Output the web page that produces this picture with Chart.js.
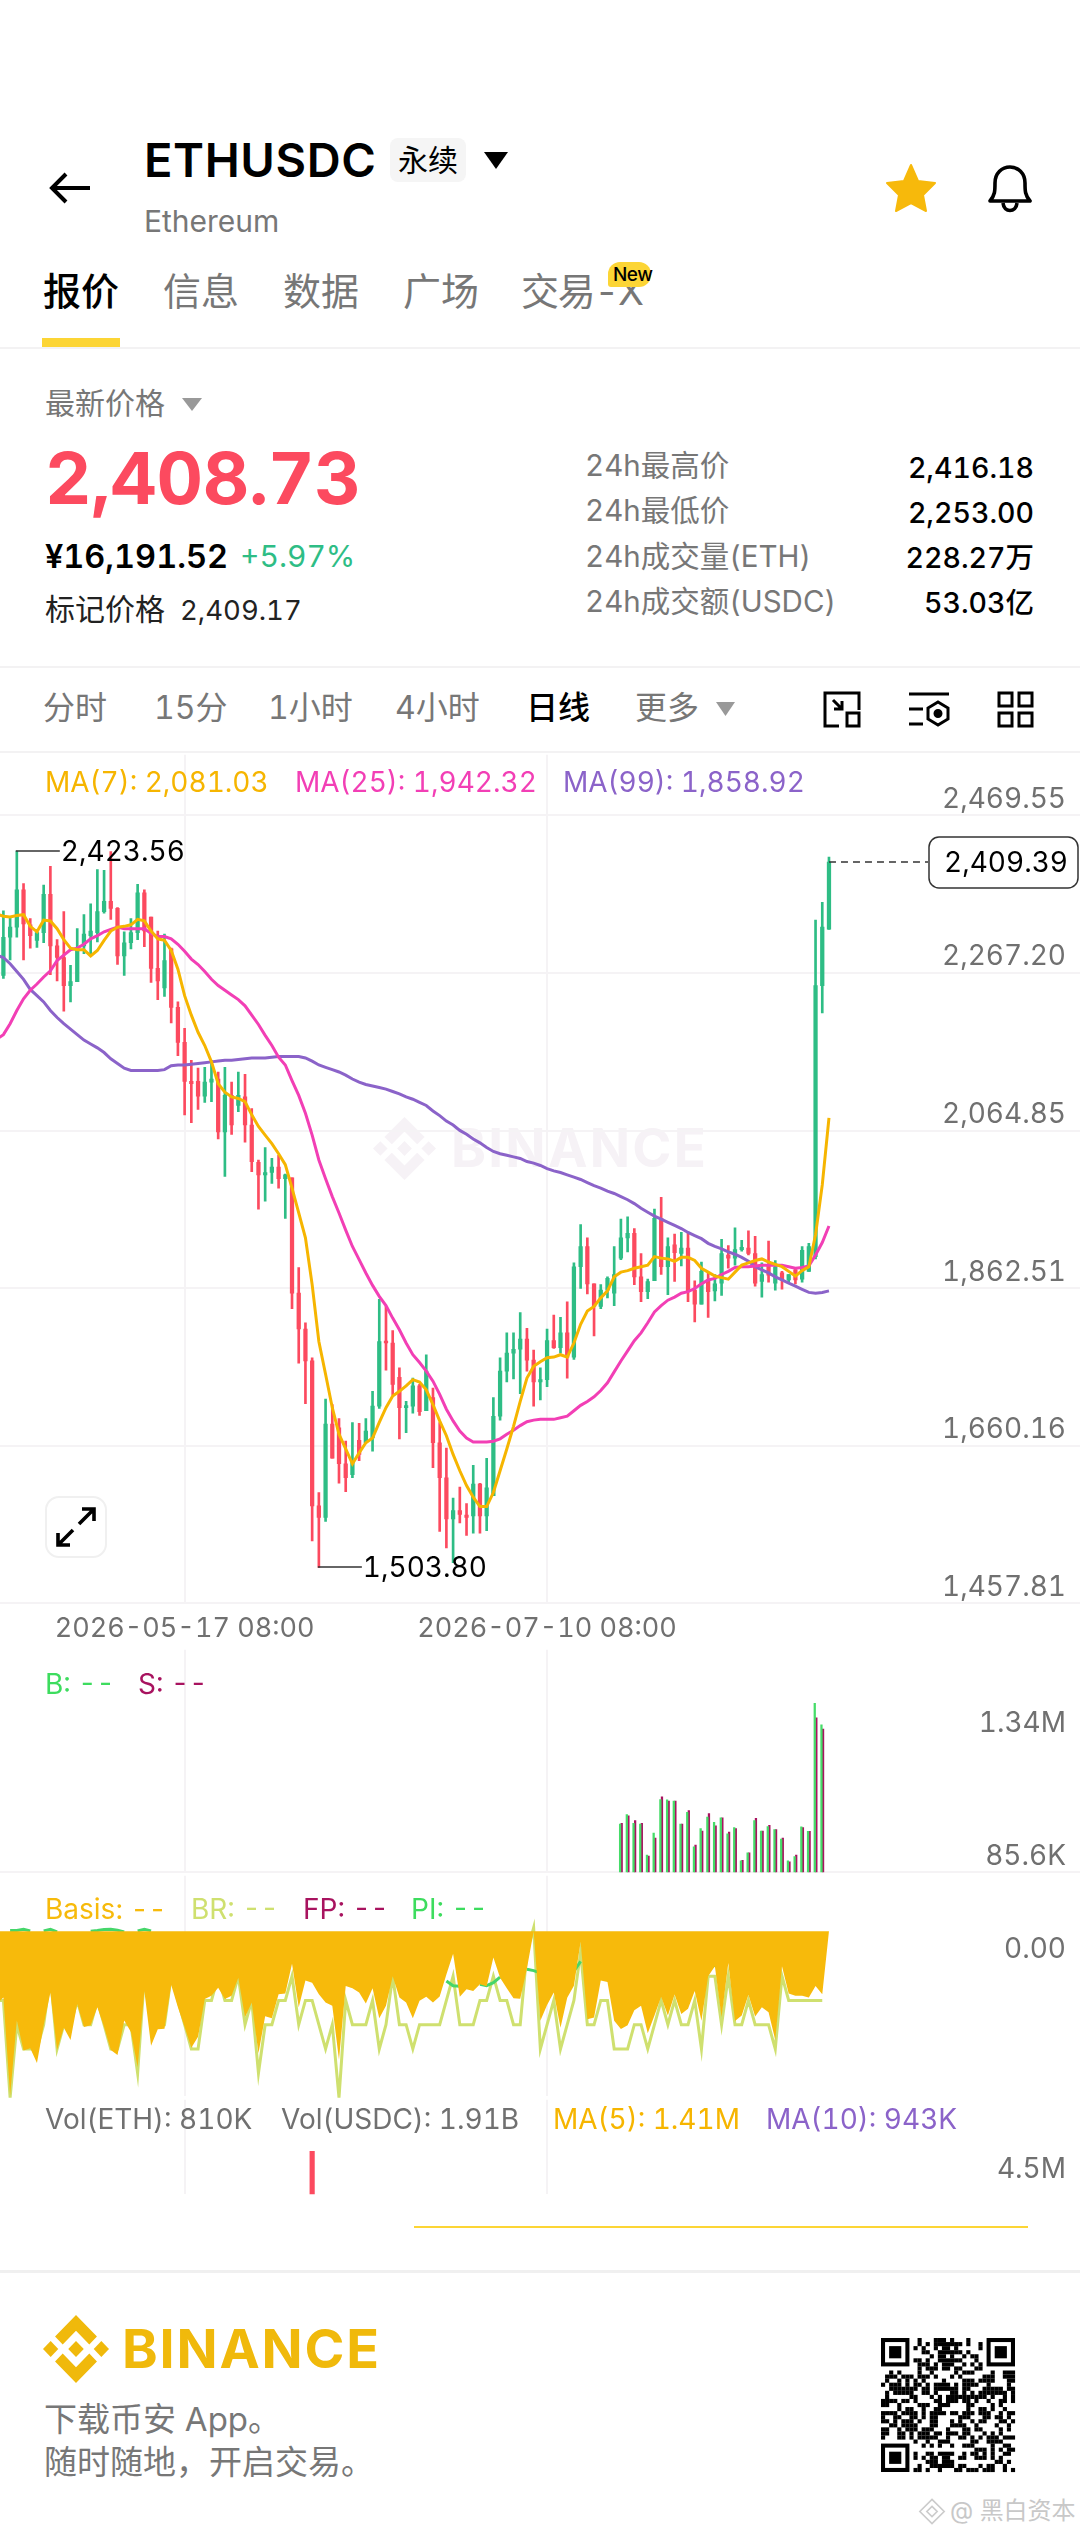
<!DOCTYPE html>
<html>
<head>
<meta charset="utf-8">
<script src="https://cdn.jsdelivr.net/npm/chart.js@4/dist/chart.umd.min.js"></script>
<style>
  html, body { margin: 0; padding: 0; background: #fff; }
  body { position: relative; width: 1080px; height: 2537px; overflow: hidden;
         font-family: Inter, "Noto Sans CJK SC", sans-serif; color: #000; font-variant-numeric: tabular-nums; }
  canvas { position: absolute; left: 0; }
  .t { position: absolute; white-space: nowrap; transform: translateY(-50%); line-height: 1.2; }
  .lg { font-size: 28px; }
  .r { position: absolute; }
  .line { position: absolute; left: 0; width: 1080px; background: #f3f2f3; }
  svg { position: absolute; overflow: visible; }
  .grey { color: #777; }
</style>
</head>
<body>

<!-- header -->
<svg style="left:50px;top:172px" width="40" height="32" viewBox="0 0 40 32"><path d="M40 16H3M16 2L2 16l14 14" fill="none" stroke="#000" stroke-width="4"/></svg>
<div class="t" style="left:144px;top:160px;font-size:47px;font-weight:600;letter-spacing:.6px">ETHUSDC</div>
<div class="r" style="left:390px;top:138px;width:76px;height:44px;background:#f5f5f5;border-radius:8px"></div>
<div class="t" style="left:398px;top:160px;font-size:30px">永续</div>
<svg style="left:484px;top:152px" width="24" height="17"><path d="M0 0h24L12 17z" fill="#000"/></svg>
<div class="t grey" style="left:144px;top:221px;font-size:30px">Ethereum</div>
<svg style="left:886px;top:164px" width="50" height="48" viewBox="0 0 50 48"><path d="M25 1l7 16 17 2-12 12 3 16-15-8-15 8 3-16L1 19l17-2z" fill="#f7b90b" stroke="#f7b90b" stroke-linejoin="round" stroke-width="2"/></svg>
<svg style="left:987px;top:165px" width="46" height="48" viewBox="0 0 46 48"><path d="M3 36c5-6 5-10 5-18C8 8 15 2 23 2s15 6 15 16c0 8 0 12 5 18z" fill="none" stroke="#000" stroke-width="3.6" stroke-linejoin="round"/><path d="M16 38c1 10 13 10 14 0" fill="none" stroke="#000" stroke-width="3.6"/></svg>

<div class="t" style="left:43px;top:292px;font-size:38px;font-weight:500">报价</div>
<div class="t grey" style="left:163px;top:292px;font-size:38px">信息</div>
<div class="t grey" style="left:283px;top:292px;font-size:38px">数据</div>
<div class="t grey" style="left:403px;top:292px;font-size:38px">广场</div>
<div class="t grey" style="left:521px;top:292px;font-size:38px;letter-spacing:-1.2px">交易-X</div>
<div class="r" style="left:608px;top:262px;width:43px;height:25px;background:#fcd535;border-radius:12px 12px 12px 3px"></div>
<div class="t" style="left:613px;top:275px;font-size:19px;font-weight:500;letter-spacing:-.5px">New</div>
<div class="r" style="left:42px;top:338px;width:78px;height:9px;background:#fcd535"></div>
<div class="line" style="top:347px;height:2px"></div>

<div class="t grey" style="left:45px;top:403px;font-size:30px">最新价格</div>
<svg style="left:182px;top:398px" width="20" height="13"><path d="M0 0h20L10 13z" fill="#999"/></svg>
<div class="t" style="left:45px;top:478px;font-size:72px;font-weight:700;color:#fc4a5f;letter-spacing:-.3px">2,408.73</div>
<div class="t" style="left:45px;top:556px;font-size:32.5px;font-weight:600">¥16,191.52</div>
<div class="t" style="left:240px;top:556px;font-size:30px;color:#2ebd85">+5.97%</div>
<div class="t" style="left:45px;top:609px;font-size:30px;color:#222">标记价格</div>
<div class="t" style="left:180px;top:610px;font-size:27.5px;color:#222">2,409.17</div>

<div class="t grey" style="left:585px;top:466px;font-size:29.500px">24h最高价</div>
<div class="t grey" style="left:585px;top:511px;font-size:29.500px">24h最低价</div>
<div class="t grey" style="left:585px;top:557px;font-size:29.500px">24h成交量(ETH)</div>
<div class="t grey" style="left:585px;top:602px;font-size:29.500px">24h成交额(USDC)</div>
<div class="t" style="right:46px;top:468px;font-size:28.5px;font-weight:500">2,416.18</div>
<div class="t" style="right:46px;top:513px;font-size:28.5px;font-weight:500">2,253.00</div>
<div class="t" style="right:46px;top:558px;font-size:28.5px;font-weight:500">228.27万</div>
<div class="t" style="right:46px;top:603px;font-size:28.5px;font-weight:500">53.03亿</div>
<div class="line" style="top:666px;height:2px"></div>

<div class="t grey" style="left:43px;top:708px;font-size:32px">分时</div>
<div class="t grey" style="left:154px;top:708px;font-size:32px">15分</div>
<div class="t grey" style="left:268px;top:708px;font-size:32px">1小时</div>
<div class="t grey" style="left:395px;top:708px;font-size:32px">4小时</div>
<div class="t" style="left:526px;top:708px;font-size:32px;font-weight:500">日线</div>
<div class="t grey" style="left:635px;top:708px;font-size:32px">更多</div>
<svg style="left:716px;top:702px" width="19" height="14"><path d="M0 0h19L9.5 14z" fill="#999"/></svg>
<svg style="left:823px;top:691px" width="38" height="37" viewBox="0 0 38 37" fill="none" stroke="#000" stroke-width="3"><path d="M16 35H2V2h34v17M10 9l9 9M19 10v8h-8"/><rect x="24" y="22" width="12" height="13"/></svg>
<svg style="left:909px;top:691px" width="40" height="37" viewBox="0 0 40 37" fill="none" stroke="#000" stroke-width="3"><path d="M0 3h40M0 18h14M0 33h14M29 11l10 6v11l-10 6-10-6V17z"/><circle cx="29" cy="22.500" r="3" fill="#000"/></svg>
<svg style="left:997px;top:691px" width="37" height="37" viewBox="0 0 37 37" fill="none" stroke="#000" stroke-width="3"><rect x="2" y="2" width="13" height="13"/><rect x="22" y="2" width="13" height="13"/><rect x="2" y="22" width="13" height="13"/><rect x="22" y="22" width="13" height="13"/></svg>
<div class="line" style="top:751px;height:2px"></div>

<!-- watermark behind the price chart -->
<svg style="left:372px;top:1117px" width="65" height="63" viewBox="0 0 126 126" fill="#f6f2f6"><polygon points="63,0 103,40 88.400,54.600 63,29.200 37.600,54.600 23,40"/><polygon points="63,126 103,86 88.400,71.400 63,96.800 37.600,71.400 23,86"/><polygon points="0,63 14.600,48.400 29.200,63 14.600,77.600"/><polygon points="126,63 111.400,48.400 96.800,63 111.400,77.600"/><polygon points="63,48.200 77.800,63 63,77.800 48.200,63"/></svg>
<div class="t" style="left:451px;top:1149px;font-size:53px;font-weight:700;color:#f6f2f6;letter-spacing:2.2px">BINANCE</div>

<canvas id="priceChart" width="1080" height="895" style="top:752px"></canvas>
<canvas id="depthChart" width="1080" height="228" style="top:1647px"></canvas>
<canvas id="basisChart" width="1080" height="226" style="top:1873px"></canvas>
<canvas id="volChart" width="1080" height="100" style="top:2097px"></canvas>

<!-- legends -->
<div class="t lg" style="left:45px;top:783px;color:#f6b500">MA(7): 2,081.03</div>
<div class="t lg" style="left:295px;top:783px;color:#f23fb5">MA(25): 1,942.32</div>
<div class="t lg" style="left:563px;top:783px;color:#8b63c9">MA(99): 1,858.92</div>

<div class="r" style="left:45px;top:1496px;width:58px;height:58px;border:2px solid #f0f0f0;border-radius:14px;background:#fff"></div>
<svg style="left:56px;top:1507px" width="40" height="40" viewBox="0 0 40 40" fill="none" stroke="#000" stroke-width="3.600"><path d="M23 17L38 2M26 2h12v12M17 23L2 38M14 38H2V26"/></svg>

<div class="t lg" style="left:45px;top:1685px;color:#3ddc5e">B: --</div>
<div class="t lg" style="left:138px;top:1685px;color:#a8135f">S: --</div>

<div class="t lg" style="left:45px;top:1910px;color:#f7ba0b">Basis: --</div>
<div class="t lg" style="left:191px;top:1910px;color:#cfe06f">BR: --</div>
<div class="t lg" style="left:303px;top:1910px;color:#a8135f">FP: --</div>
<div class="t lg" style="left:411px;top:1910px;color:#3ddc5e">PI: --</div>

<div class="t lg" style="left:45px;top:2120px;color:#707070">Vol(ETH): 810K</div>
<div class="t lg" style="left:281px;top:2120px;color:#707070">Vol(USDC): 1.91B</div>
<div class="t lg" style="left:553px;top:2120px;color:#f6b500">MA(5): 1.41M</div>
<div class="t lg" style="left:766px;top:2120px;color:#8b63c9">MA(10): 943K</div>

<div class="r" style="left:414px;top:2226px;width:614px;height:2px;background:#fcd535"></div>

<!-- footer -->
<div class="line" style="top:2270px;height:3px;background:#f0f0f0"></div>
<svg style="left:43px;top:2315px" width="66" height="68" viewBox="0 0 126 126" preserveAspectRatio="none" fill="#f0b90b"><polygon points="63,0 103,40 88.400,54.600 63,29.200 37.600,54.600 23,40"/><polygon points="63,126 103,86 88.400,71.400 63,96.800 37.600,71.400 23,86"/><polygon points="0,63 14.600,48.400 29.200,63 14.600,77.600"/><polygon points="126,63 111.400,48.400 96.800,63 111.400,77.600"/><polygon points="63,48.200 77.800,63 63,77.800 48.200,63"/></svg>
<div class="t" style="left:122px;top:2349px;font-size:54px;font-weight:700;color:#f0b90b;letter-spacing:1.8px">BINANCE</div>
<div class="t grey" style="left:44px;top:2420px;font-size:33px">下载币安 App。</div>
<div class="t grey" style="left:44px;top:2463px;font-size:33px">随时随地，开启交易。</div>
<svg id="qr" style="left:881px;top:2338px" width="134" height="134" viewBox="0 0 33 33"></svg>
<svg style="left:919px;top:2498px" width="26" height="27" viewBox="0 0 126 126" fill="none" stroke="#ccc" stroke-width="8"><polygon points="63,4 122,63 63,122 4,63"/><polygon points="63,38 88,63 63,88 38,63"/></svg>
<div class="t" style="left:950px;top:2511px;font-size:24px;color:#c8c8c8">@ 黑白资本</div>

<script>
// daily candles, 2026-04-20 onward
const opens = [2264,2313,2326,2374,2329,2309,2319,2368,2302,2287,2251,2256,2302,2315,2319,2346,2359,2350,2289,2306,2319,2370,2339,2273,2248,2298,2223,2178,2128,2128,2109,2127,2131,2063,2110,2097,2108,2072,
  2024,2008,2011,2018,2003,2004,1856,1810,1769,1583,1568,1688,1683,1637,1623,1667,1664,1670,1711,1794,1792,1748,1709,1711,1737,1705,1722,1664,1619,1566,1577,1571,1570,1611,1570,1596,1698,1756,1779,1784,1797,
  1770,1742,1745,1795,1786,1805,1774,1890,1916,1868,1839,1860,1856,1901,1927,1933,1877,1858,1872,1952,1890,1918,1907,1914,1860,1842,1873,1859,1869,1905,1901,1912,1914,1907,1871,1892,1869,1882,1873,1886,1874,1884,1903,2251,2323.5];
const highs = [2347,2339,2423.56,2382,2337,2323,2380,2404,2310,2346,2277,2324,2342,2356,2400,2399,2423,2351,2320,2337,2381,2374,2339,2321,2317,2299,2230,2196,2155,2145,2146,2155,2140,2146,2127,2140,2137,2093,
  2027,2043,2029,2033,2009,2004,1889,1818,1773,1600,1720,1713,1695,1666,1690,1689,1695,1730,1848,1839,1808,1760,1717,1747,1739,1777,1734,1690,1657,1593,1607,1586,1635,1612,1644,1722,1773,1805,1805,1831,1811,
  1783,1760,1810,1828,1825,1845,1895,1944,1927,1868,1867,1877,1916,1951,1954,1939,1907,1874,1964,1979,1927,1932,1934,1934,1872,1896,1882,1880,1925,1917,1940,1924,1936,1929,1895,1923,1898,1884,1880,1888,1916,1920,2335,2358,2416];
const lows = [2260,2284,2313,2284,2299,2300,2306,2265,2257,2218,2230,2256,2292,2292,2307,2344,2336,2278,2264,2298,2310,2301,2255,2233,2237,2203,2161,2085,2075,2092,2101,2102,2054,2006,2060,2089,2050,2012,
  1964,1974,1997,1991,1952,1836,1766,1714,1538,1503.8,1563,1644,1612,1601,1619,1641,1664,1653,1708,1757,1725,1669,1677,1702,1699,1705,1632,1550,1529,1510,1561,1545,1548,1548,1551,1596,1693,1742,1746,1727,1756,
  1711,1719,1736,1785,1779,1747,1771,1862,1855,1801,1836,1850,1840,1899,1909,1867,1845,1849,1872,1880,1854,1871,1891,1845,1819,1842,1825,1846,1853,1888,1892,1910,1905,1865,1851,1870,1860,1861,1870,1868,1870,1884,1900,2216,2323];
const closes = [2313,2326,2374,2330,2315,2319,2368,2302,2287,2251,2256,2298,2317,2321,2346,2359,2350,2289,2306,2319,2370,2321,2273,2257,2283,2223,2178,2128,2125,2109,2127,2131,2063,2110,2072,2110,2072,2025,
  2008,2011,2018,2003,2008,1856,1810,1769,1583,1568,1688,1644,1637,1619,1641,1649,1679,1711,1794,1792,1739,1709,1711,1737,1704,1756,1664,1619,1566,1577,1572,1568,1611,1570,1606,1698,1756,1779,1784,1797,1770,
  1742,1745,1795,1786,1805,1774,1890,1916,1868,1839,1860,1875,1880,1927,1933,1877,1858,1871,1952,1890,1916,1908,1914,1858,1842,1884,1858,1868,1907,1901,1912,1915,1907,1869,1880,1879,1890,1873,1880,1873,1911,1916,2251,2326,2409.39];

// moving averages start one day left of the first candle, off the edge of the pane
const ma7 = [2343,2340,2339,2341,2342,2327,2320,2335,2334,2324,2310,2299,2297,2297,2289,2296,2309,2321,2326,2327,2329,2336,2334,2321,2311,2309,2296,2272,2238,2213,2191,2174,2153,2125,2114,2108,2106,2102,2085,
  2070,2059,2048,2035,2021,1991,1959,1927,1867,1794,1752,1709,1675,1656,1637,1651,1664,1670,1690,1709,1724,1730,1737,1745,1742,1732,1713,1692,1673,1649,1628,1609,1594,1582,1582,1600,1628,1656,1685,1717,1747,1762,
  1768,1773,1774,1777,1774,1792,1816,1833,1839,1850,1859,1877,1883,1885,1888,1890,1892,1903,1901,1900,1897,1902,1902,1898,1888,1883,1878,1876,1874,1883,1892,1895,1898,1900,1896,1893,1890,1884,1878,1885,1890,1931,1995,2081.03];
const ma25 = [2182,2188,2202,2219,2234,2245,2253,2262,2270,2283,2290,2297,2299,2304,2311,2315,2320,2323,2326,2324,2324,2324,2324,2318,2314,2314,2311,2304,2295,2285,2278,2269,2259,2251,2245,2239,2233,2225,2213,2201,2187,2174,
  2159,2149,2129,2110,2087,2059,2027,2003,1980,1959,1937,1916,1899,1882,1866,1852,1840,1824,1809,1792,1777,1767,1756,1743,1726,1707,1692,1679,1670,1665,1665,1665,1666,1669,1675,1680,1686,1691,1693,
  1694,1694,1694,1696,1698,1705,1712,1717,1723,1731,1741,1755,1769,1782,1795,1805,1818,1832,1840,1847,1851,1856,1858,1862,1868,1873,1875,1880,1884,1889,1890,1890,1891,1892,1892,1892,1892,1890,1888,1889,1891,1905,1921,1942.32];
const ma99 = [2290,2287,2279,2269,2259,2246,2238,2230,2219,2210,2202,2195,2188,2181,2176,2171,2165,2157,2151,2145,2142,2142,2142,2142,2142,2143,2148,2149,2149,2150,2151,2152,2153,2154,2155,2155,2156,2157,2158,2158,2158,2159,
  2160,2160,2160,2160,2158,2154,2149,2146,2143,2140,2136,2131,2127,2124,2122,2120,2118,2115,2112,2108,2105,2101,2097,2090,2084,2077,2072,2065,2060,2054,2049,2043,2038,2035,2033,2031,2029,2025,2023,
  2020,2016,2013,2011,2008,2005,2002,1998,1994,1991,1987,1984,1980,1976,1971,1965,1960,1955,1951,1947,1943,1939,1934,1930,1926,1920,1916,1913,1909,1906,1902,1897,1890,1886,1882,1877,1873,1869,1865,1861,1857,1856,1857,1858.92];

// buy / sell volume in thousands, only the days that show in the pane
const flowDays = [92,93,94,95,96,97,98,99,100,101,102,103,104,105,106,107,108,109,110,111,112,113,114,115,116,117,118,119,120,121,122];
const buyVol = [542,632,549,542,249,456,775,772,759,542,652,326,499,609,559,602,449,509,193,269,576,476,519,489,399,193,233,516,472,1685,1482];
const sellVol = [549,619,576,549,239,409,799,759,759,542,669,342,476,642,526,602,466,499,199,269,596,476,529,489,409,183,249,509,472,1548,1442];

// basis, basis rate and premium index, same one-day lead-in as the MAs
const basis = [-2.22,-2.02,-5.02,-2.72,-3.64,-3.57,-4.02,-2.87,-1.87,-3.62,-2.94,-3.32,-2.22,-2.92,-2.87,-2.32,-2.92,-3.62,-3.77,-2.72,-3.07,-4.15,-1.82,-3.49,-2.99,-2.97,-1.64,-2.32,-2.92,-3.55,-3.22,-2.07,-1.97,-1.72,-2.07,-1.97,-1.42,-2.62,-2.17,-3.72,-2.59,-2.65,
  -1.92,-1.90,-0.99,-2.32,-1.50,-1.57,-1.92,-2.17,-2.27,-3.92,-1.67,-1.74,-1.87,-2.20,-1.74,-2.65,-2.27,-1.37,-2.02,-2.17,-2.65,-2.12,-2.00,-2.17,-1.99,-1.32,-0.69,-2.00,-1.77,-1.82,-1.62,-1.68,-0.80,-1.42,-1.74,-2.04,-2.06,-1.14,0,
  -2.73,-2.25,-1.87,-2.94,-2.03,-1.66,-0.32,-2.68,-2.63,-1.50,-1.55,-2.73,-2.98,-2.87,-2.41,-2.27,-3.11,-2.57,-2.00,-2.57,-1.93,-2.52,-2.36,-1.82,-2.73,-1.37,-1.07,-2.62,-0.97,-2.74,-2.57,-1.94,-2.60,-2.32,-2.47,-3.32,-1.07,-1.90,-1.97,-1.97,-2.02,-1.67,-1.92,0];
const basisRate = [-0.03,-0.03,-0.07,-0.04,-0.05,-0.05,-0.05,-0.04,-0.02,-0.05,-0.04,-0.04,-0.03,-0.04,-0.04,-0.03,-0.04,-0.05,-0.05,-0.04,-0.04,-0.06,-0.02,-0.04,-0.04,-0.04,-0.02,-0.03,-0.04,-0.05,-0.05,-0.03,-0.03,-0.02,-0.03,-0.03,-0.02,-0.04,-0.03,-0.06,-0.04,-0.04,
  -0.03,-0.03,-0.02,-0.04,-0.03,-0.03,-0.04,-0.05,-0.04,-0.07,-0.03,-0.04,-0.04,-0.04,-0.03,-0.05,-0.04,-0.02,-0.04,-0.04,-0.05,-0.04,-0.04,-0.04,-0.04,-0.03,-0.02,-0.04,-0.04,-0.04,-0.03,-0.03,-0.02,-0.03,-0.03,-0.04,-0.04,-0.01,0,
  -0.05,-0.04,-0.03,-0.05,-0.04,-0.03,-0.01,-0.04,-0.04,-0.03,-0.03,-0.05,-0.05,-0.05,-0.04,-0.04,-0.05,-0.04,-0.03,-0.04,-0.03,-0.04,-0.04,-0.03,-0.05,-0.02,-0.02,-0.04,-0.02,-0.04,-0.04,-0.03,-0.04,-0.04,-0.04,-0.05,-0.02,-0.03,-0.03,-0.03,-0.03,-0.03,-0.03,null];
const premiumDays = [1,2,3,4,null,6,7,8,null,13,14,15,16,17,18,null,20,21,22,null,66,67,68,null,71,72,73,74,null,78,79,80,null,85,86,null,105,106,107];
const premium = [0.02,0.02,0.06,0.01,null,0.01,0.06,-0.02,null,0,0.02,0.05,0.06,0.03,-0.02,null,0.01,0.06,0.01,null,-1.52,-1.66,-1.68,null,-1.62,-1.66,-1.57,-1.40,null,-1.16,-1.20,-1.27,null,-1.22,-0.92,null,-1.2,-1.02,-1.2];

// the lone visible volume bar, in millions
const volDays = [46];
const volEth = [5.31];

// tick labels
const priceTicks = [2469.55,2267.20,2064.85,1862.51,1660.16,1457.81];
const priceTickLabels = ['2,469.55','2,267.20','2,064.85','1,862.51','1,660.16','1,457.81'];
const flowTicks = [1340,85.6];
const flowTickLabels = ['1.34M','85.6K'];
const dateTickDays = [27,81];
const dateTickLabels = ['2026-05-17 08:00','2026-07-10 08:00'];

const GREEN = '#2ebd85', RED = '#fc4a5f', GRID = '#f5f3f5', AXIS_TEXT = '#707070';
// one day = 6.712px, first candle at x=3.4
const xMin = -3.4 / 6.712, xMax = (1080 - 3.4) / 6.712;

Chart.defaults.font.family = 'Inter, "Noto Sans CJK SC", sans-serif';
Chart.defaults.animation = false;
Chart.defaults.responsive = false;
Chart.defaults.devicePixelRatio = 1;
Chart.defaults.plugins.legend.display = false;
Chart.defaults.plugins.tooltip.enabled = false;

function xAxis(gutter, showLabels) {
  return {
    type: 'linear', min: xMin, max: xMax, offset: false,
    afterBuildTicks: s => { s.ticks = dateTickDays.map(v => ({ value: v })); },
    afterFit: s => { s.height = gutter; },
    grid: { color: GRID, lineWidth: 2, drawTicks: false, offset: false },
    border: { display: false },
    ticks: {
      display: showLabels, autoSkip: false, maxRotation: 0, minRotation: 0, padding: 9,
      color: AXIS_TEXT, font: { size: 27 },
      callback: v => dateTickLabels[dateTickDays.indexOf(v)]
    }
  };
}

function yAxis(min, max, tickVals, tickText, labelOffset, gridFor) {
  return {
    position: 'right', min, max, beginAtZero: false,
    afterBuildTicks: s => { s.ticks = tickVals.map(v => ({ value: v })); },
    afterFit: s => { s.width = 0; },
    grid: { color: gridFor || GRID, lineWidth: 2, drawTicks: false },
    border: { display: false },
    ticks: {
      mirror: true, padding: -14, labelOffset, color: AXIS_TEXT, font: { size: 28 },
      autoSkip: false,
      callback: v => tickText[tickVals.indexOf(v)]
    }
  };
}

const days = closes.map((_, i) => i);
const at = (vals, lead) => vals.map((y, i) => ({ x: i - lead, y }));
const candleColor = days.map(i => closes[i] >= opens[i] ? GREEN : RED);

function maLine(values, color, order) {
  return { type: 'line', data: at(values, 1), borderColor: color, borderWidth: 3, pointRadius: 0, tension: 0, order };
}

// high / low callouts and the last-price tag, positioned through the scales
const priceMarks = {
  id: 'priceMarks',
  afterDatasetsDraw(chart) {
    const { ctx, scales: { x, y } } = chart;
    ctx.save();
    ctx.font = '28px ' + Chart.defaults.font.family;
    ctx.textBaseline = 'middle';
    ctx.fillStyle = '#000';
    ctx.strokeStyle = '#333';
    ctx.lineWidth = 1.5;

    [[2, highs[2]], [47, lows[47]]].forEach(([day, value]) => {
      const px = x.getPixelForValue(day), py = Math.round(y.getPixelForValue(value));
      ctx.beginPath();
      ctx.moveTo(px - 1, py);
      ctx.lineTo(px + 43, py);
      ctx.stroke();
      ctx.fillText(value.toLocaleString('en-US', { minimumFractionDigits: 2 }), px + 44, py + 2);
    });

    const lastY = Math.round(y.getPixelForValue(closes[123]));
    const lastX = x.getPixelForValue(123);
    ctx.setLineDash([7, 5]);
    ctx.beginPath();
    ctx.moveTo(lastX, lastY);
    ctx.lineTo(928, lastY);
    ctx.stroke();
    ctx.setLineDash([]);
    ctx.fillStyle = '#fff';
    ctx.beginPath();
    ctx.roundRect(929, lastY - 25, 149, 51, 10);
    ctx.fill();
    ctx.stroke();
    ctx.fillStyle = '#000';
    ctx.fillText('2,409.39', 944, lastY + 2);
    ctx.restore();
  }
};

new Chart(document.getElementById('priceChart'), {
  type: 'bar',
  data: {
    datasets: [
      maLine(ma7, '#f6b500', 1),
      maLine(ma25, '#f23fb5', 2),
      maLine(ma99, '#8b63c9', 3),
      { data: days.map(i => ({ x: i, y: [opens[i], closes[i]] })), backgroundColor: candleColor,
        barThickness: 3.6, minBarLength: 2, grouped: false, order: 4 },
      { data: days.map(i => ({ x: i, y: [lows[i], highs[i]] })), backgroundColor: candleColor,
        barThickness: 2, grouped: false, order: 5 }
    ]
  },
  options: {
    layout: { padding: 0 },
    scales: {
      x: xAxis(43.7, true),
      y: yAxis(1457.81, 2547.29, priceTicks, priceTickLabels, -16)
    }
  },
  plugins: [priceMarks]
});

new Chart(document.getElementById('depthChart'), {
  type: 'bar',
  data: {
    datasets: [
      { data: flowDays.map((d, i) => ({ x: d, y: buyVol[i] })), backgroundColor: '#45dc68', barThickness: 1.6 },
      { data: flowDays.map((d, i) => ({ x: d, y: sellVol[i] })), backgroundColor: '#a8135f', barThickness: 1.6 }
    ]
  },
  options: {
    layout: { padding: 0 },
    scales: {
      x: xAxis(2, false),
      y: yAxis(85.6, 2193.5, flowTicks, flowTickLabels, -16, c => c.tick.value === 1340 ? 'transparent' : GRID)
    }
  }
});

new Chart(document.getElementById('basisChart'), {
  type: 'line',
  data: {
    datasets: [
      { data: at(basis, 1), borderWidth: 0, pointRadius: 0, fill: 'origin', backgroundColor: '#f7ba0b', yAxisID: 'y', order: 1 },
      { data: premium.map((y, i) => ({ x: premiumDays[i], y })),
        borderColor: '#45d66a', borderWidth: 3, pointRadius: 0, spanGaps: false, yAxisID: 'y', order: 2 },
      { data: at(basisRate, 1), borderColor: '#cfe06f', borderWidth: 3, pointRadius: 0, yAxisID: 'yRate', clip: false, order: 3 }
    ]
  },
  options: {
    layout: { padding: 0 },
    scales: {
      x: xAxis(2, false),
      y: yAxis(-5.03, 1.69, [0], ['0.00'], 18, c => 'transparent'),
      yRate: { axis: 'y', position: 'left', display: false, min: -0.06945, max: 0.02135 }
    }
  }
});

new Chart(document.getElementById('volChart'), {
  type: 'bar',
  data: { datasets: [{ data: volDays.map((d, i) => ({ x: d, y: volEth[i] })), backgroundColor: RED, barThickness: 4.5 }] },
  options: {
    layout: { padding: 0 },
    scales: {
      x: xAxis(0, false),
      y: yAxis(4.3, 6.52, [4.5], ['4.5M'], -16, c => 'transparent')
    }
  }
});

// QR decoration, not part of the chart
(function () {
  const svg = document.getElementById('qr'), n = 33;
  let seed = 77, out = '';
  const inFinder = (c, r) => (c < 8 && r < 8) || (c > 24 && r < 8) || (c < 8 && r > 24);
  for (let r = 0; r < n; r++) for (let c = 0; c < n; c++) {
    seed = (seed * 1103515245 + 12345) & 0x7fffffff;
    if (!inFinder(c, r) && (seed >> 16) % 2) out += `<rect x="${c}" y="${r}" width="1.02" height="1.02"/>`;
  }
  [[0, 0], [26, 0], [0, 26]].forEach(([c, r]) => {
    out += `<rect x="${c}" y="${r}" width="7" height="7"/><rect x="${c + 1}" y="${r + 1}" width="5" height="5" fill="#fff"/><rect x="${c + 2}" y="${r + 2}" width="3" height="3"/>`;
  });
  svg.innerHTML = out;
})();
</script>
</body>
</html>
